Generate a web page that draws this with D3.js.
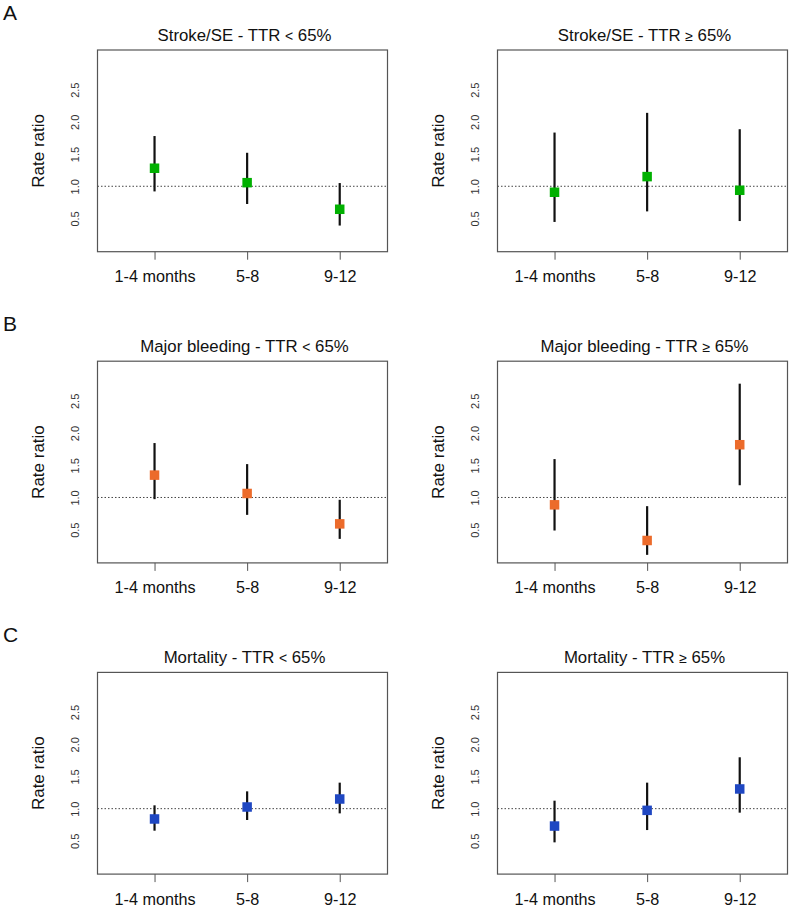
<!DOCTYPE html>
<html>
<head>
<meta charset="utf-8">
<script src="https://cdn.jsdelivr.net/npm/d3@7"></script>
<style>
  html, body { margin: 0; padding: 0; background: #fff; }
  svg { display: block; font-family: "Liberation Sans", Arial, Helvetica, sans-serif; }
</style>
</head>
<body>
<svg id="chart" width="800" height="908"></svg>
<script>
// ---- Data ----
const categories = ["1-4 months", "5-8", "9-12"];
const yTicks = [0.5, 1.0, 1.5, 2.0, 2.5];
const rowLetters = ["A", "B", "C"];
const rowColors = ["#00b000", "#ec6b2b", "#1f47c2"];
const titleOutcomes = ["Stroke/SE", "Major bleeding", "Mortality"];
const titleGroups = [["<", " 65%"], ["\u2265", " 65%"]];
// estimates, lower, upper per panel
const strokeLowEst   = [1.28, 1.056, 0.643];
const strokeLowLo    = [0.92, 0.725, 0.39];
const strokeLowHi    = [1.78, 1.52, 1.05];
const strokeHighEst  = [0.907, 1.15, 0.938];
const strokeHighLo   = [0.446, 0.61, 0.46];
const strokeHighHi   = [1.834, 2.14, 1.886];
const bleedLowEst    = [1.347, 1.062, 0.59];
const bleedLowLo     = [0.974, 0.73, 0.357];
const bleedLowHi     = [1.845, 1.518, 0.964];
const bleedHighEst   = [0.886, 0.332, 1.819];
const bleedHighLo    = [0.487, 0.109, 1.19];
const bleedHighHi    = [1.596, 0.865, 2.767];
const mortLowEst     = [0.84, 1.026, 1.15];
const mortLowLo      = [0.658, 0.824, 0.927];
const mortLowHi      = [1.052, 1.269, 1.404];
const mortHighEst    = [0.73, 0.974, 1.306];
const mortHighLo     = [0.477, 0.668, 0.938];
const mortHighHi     = [1.124, 1.404, 1.798];

const panels = [
  [[strokeLowEst, strokeLowLo, strokeLowHi], [strokeHighEst, strokeHighLo, strokeHighHi]],
  [[bleedLowEst, bleedLowLo, bleedLowHi], [bleedHighEst, bleedHighLo, bleedHighHi]],
  [[mortLowEst, mortLowLo, mortLowHi], [mortHighEst, mortHighLo, mortHighHi]]
];

// ---- Layout ----
const svg = d3.select("#chart");
const rowStep = 311.2, colStep = 400;
const boxL = 97.5, boxR = 387.5, boxT = 50, boxB = 251.7;

const x = d3.scaleLinear().domain([0.384, 3.516]).range([boxL, boxR]);
const y = d3.scaleLinear().domain([-0.016, 3.116]).range([boxB, boxT]);

panels.forEach((row, r) => {
  const rg = svg.append("g").attr("transform", `translate(0,${r * rowStep})`);
  rg.append("text")
    .attr("x", 3).attr("y", 20)
    .attr("font-size", 21).attr("fill", "#111")
    .text(rowLetters[r]);

  row.forEach((series, c) => {
    const [est, lo, hi] = series;
    const g = rg.append("g").attr("transform", `translate(${c * colStep},0)`);

    // title
    const t = g.append("text")
      .attr("x", (boxL + boxR) / 2 + 2).attr("y", 40.5)
      .attr("text-anchor", "middle")
      .attr("font-size", 16.8).attr("fill", "#111");
    t.append("tspan").text(titleOutcomes[r] + " - TTR ");
    t.append("tspan").attr("font-size", 14).text(titleGroups[c][0]);
    t.append("tspan").text(titleGroups[c][1]);

    // reference line at 1
    g.append("line")
      .attr("x1", boxL).attr("x2", boxR)
      .attr("y1", y(1)).attr("y2", y(1))
      .attr("stroke", "#444").attr("stroke-width", 1)
      .attr("stroke-dasharray", "1.5,2");

    // y axis (labels only, rotated)
    const yAxis = d3.axisLeft(y).tickValues(yTicks).tickSize(0).tickPadding(0)
      .tickFormat(d3.format(".1f"));
    const ya = g.append("g").attr("transform", `translate(${boxL},0)`).call(yAxis);
    ya.select(".domain").remove();
    ya.selectAll("text")
      .attr("font-size", 11).attr("fill", "#333")
      .attr("font-family", "'Liberation Sans', Arial, sans-serif")
      .attr("text-anchor", "middle")
      .attr("x", null).attr("dy", null)
      .attr("transform", "translate(-23,0) rotate(-90)")
      .attr("dominant-baseline", "central");

    // x axis
    const xAxis = d3.axisBottom(x).tickValues([1, 2, 3]).tickSize(8).tickPadding(11)
      .tickFormat((d, i) => categories[i]);
    const xa = g.append("g").attr("transform", `translate(0,${boxB})`).call(xAxis);
    xa.select(".domain").remove();
    xa.selectAll(".tick line").attr("stroke", "#555");
    xa.selectAll("text")
      .attr("font-size", 16.2).attr("fill", "#111")
      .attr("font-family", "'Liberation Sans', Arial, sans-serif");

    // y label
    g.append("text")
      .attr("transform", `translate(44,${(boxT + boxB) / 2}) rotate(-90)`)
      .attr("text-anchor", "middle")
      .attr("font-size", 17).attr("fill", "#111")
      .text("Rate ratio");

    // CI lines
    g.selectAll(".ci").data(est).enter().append("line")
      .attr("x1", (d, i) => x(i + 1)).attr("x2", (d, i) => x(i + 1))
      .attr("y1", (d, i) => y(lo[i])).attr("y2", (d, i) => y(hi[i]))
      .attr("stroke", "#111").attr("stroke-width", 2.2);

    // point squares
    const s = 9.5;
    g.selectAll(".pt").data(est).enter().append("rect")
      .attr("x", (d, i) => x(i + 1) - s / 2)
      .attr("y", d => y(d) - s / 2)
      .attr("width", s).attr("height", s)
      .attr("fill", rowColors[r]);

    // box
    g.append("rect")
      .attr("x", boxL).attr("y", boxT)
      .attr("width", boxR - boxL).attr("height", boxB - boxT)
      .attr("fill", "none").attr("stroke", "#555").attr("stroke-width", 1.2);
  });
});
</script>
</body>
</html>
